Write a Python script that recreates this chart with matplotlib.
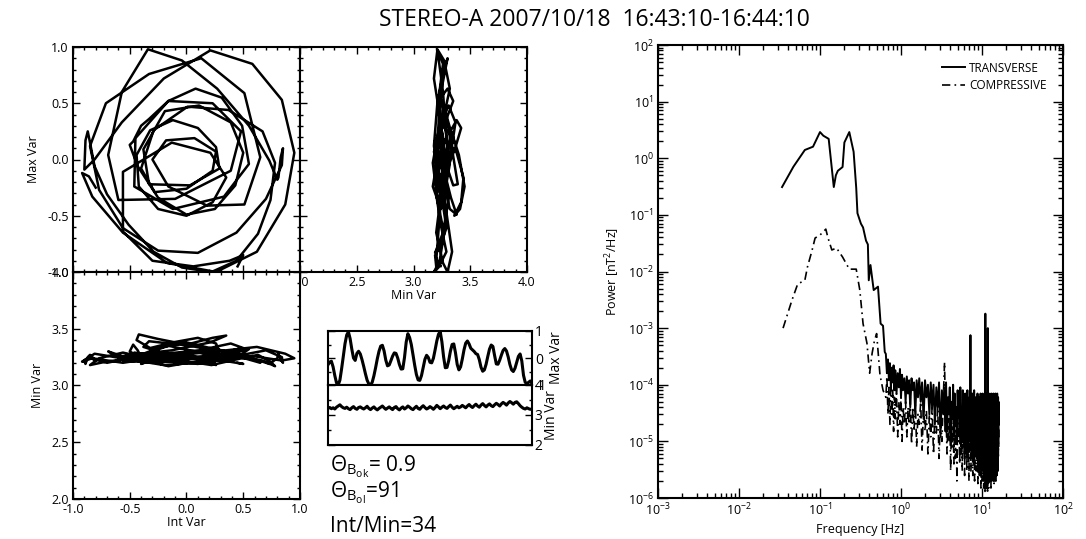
# hodograms + power spectrum, STEREO-A 2007/10/18
import matplotlib
matplotlib.use('Agg')
import matplotlib.pyplot as plt
from matplotlib.ticker import MultipleLocator, FormatStrFormatter, LogLocator, NullFormatter

plt.rcParams['font.family'] = ['Open Sans', 'DejaVu Sans']
plt.rcParams['axes.unicode_minus'] = False
plt.rcParams['mathtext.fontset'] = 'custom'
plt.rcParams['mathtext.rm'] = 'Open Sans'
plt.rcParams['mathtext.it'] = 'Open Sans'

# field components in minimum variance frame (0.5 s samples, 60 s)
max_var = [-0.25, -0.15, -0.12, -0.33, -0.65, -0.92, -1.00, -0.82, -0.40, 0.06,
           0.53, 0.85, 0.97, 0.72, 0.33, 0.00, -0.09, 0.17, 0.25, 0.15,
           -0.06, -0.31, -0.58, -0.82, -0.96, -1.00, -0.90, -0.66, -0.36, -0.03,
           0.25, 0.44, 0.47, 0.26, -0.08, -0.29, -0.26, -0.10, 0.07, 0.19,
           0.17, 0.00, -0.24, -0.41, -0.40, 0.02, 0.59, 0.90, 0.76, 0.50,
           0.12, -0.27, -0.61, -0.81, -0.83, -0.65, -0.35, -0.05, 0.10, 0.02,
           -0.16, -0.18, -0.01, 0.30, 0.63, 0.88, 0.98, 0.60, 0.04, -0.36,
           -0.35, -0.10, 0.25, 0.50, 0.52, 0.19, -0.24, -0.44, -0.33, -0.04,
           0.30, 0.55, 0.63, 0.52, 0.36, 0.30, 0.24, 0.16, 0.13, -0.06,
           -0.34, -0.49, -0.44, -0.23, 0.06, 0.33, 0.48, 0.43, 0.09, -0.22,
           -0.23, -0.08, 0.11, 0.28, 0.35, 0.26, 0.04, -0.24, -0.44, -0.50,
           -0.38, -0.16, 0.06, 0.15, -0.11, -0.64, -0.90, -0.95, -0.90, -0.85,
           -0.95]

int_var = [-0.80, -0.86, -0.92, -0.83, -0.56, -0.17, 0.26, 0.62, 0.87, 0.95,
           0.84, 0.58, 0.21, -0.20, -0.57, -0.81, -0.90, -0.89, -0.87, -0.85,
           -0.81, -0.70, -0.51, -0.29, -0.04, 0.22, 0.44, 0.63, 0.74, 0.78,
           0.67, 0.37, 0.01, -0.29, -0.40, -0.28, 0.00, 0.23, 0.26, 0.07,
           -0.18, -0.30, -0.16, 0.18, 0.51, 0.65, 0.51, 0.13, -0.33, -0.71,
           -0.85, -0.77, -0.56, -0.25, 0.10, 0.44, 0.70, 0.84, 0.85, 0.83,
           0.81, 0.80, 0.73, 0.55, 0.27, -0.04, -0.34, -0.57, -0.69, -0.60,
           -0.10, 0.39, 0.48, 0.23, -0.16, -0.45, -0.46, -0.12, 0.33, 0.55,
           0.49, 0.31, 0.08, -0.16, -0.33, -0.40, -0.43, -0.47, -0.50, -0.43,
           -0.25, 0.00, 0.25, 0.43, 0.50, 0.39, 0.11, -0.19, -0.38, -0.33,
           0.03, 0.29, 0.26, 0.10, -0.12, -0.32, -0.44, -0.42, -0.25, 0.00,
           0.23, 0.35, 0.21, -0.13, -0.56, -0.56, -0.30, 0.06, 0.38, 0.50,
           0.45]

min_var = [3.22, 3.25, 3.21, 3.24, 3.20, 3.26, 3.30, 3.34, 3.28, 3.24,
           3.22, 3.26, 3.21, 3.18, 3.24, 3.28, 3.22, 3.19, 3.25, 3.27,
           3.23, 3.20, 3.24, 3.29, 3.22, 3.18, 3.23, 3.27, 3.21, 3.17,
           3.22, 3.26, 3.30, 3.24, 3.19, 3.23, 3.27, 3.22, 3.18, 3.25,
           3.28, 3.21, 3.17, 3.23, 3.27, 3.20, 3.24, 3.30, 3.26, 3.21,
           3.18, 3.24, 3.29, 3.22, 3.19, 3.26, 3.31, 3.25, 3.20, 3.23,
           3.28, 3.24, 3.19, 3.25, 3.32, 3.27, 3.21, 3.26, 3.30, 3.25,
           3.22, 3.28, 3.33, 3.26, 3.21, 3.25, 3.29, 3.24, 3.27, 3.32,
           3.28, 3.24, 3.30, 3.35, 3.29, 3.25, 3.31, 3.36, 3.30, 3.26,
           3.33, 3.38, 3.32, 3.27, 3.33, 3.37, 3.31, 3.28, 3.34, 3.39,
           3.35, 3.30, 3.37, 3.42, 3.38, 3.33, 3.40, 3.45, 3.41, 3.36,
           3.42, 3.44, 3.38, 3.31, 3.26, 3.22, 3.20, 3.24, 3.21, 3.19,
           3.20]

# power spectra: smooth low-frequency part
trans_freq_lo = [0.034, 0.047, 0.065, 0.082, 0.1, 0.11, 0.128, 0.148, 0.157, 0.166,
                 0.19, 0.2, 0.23, 0.26, 0.28, 0.29, 0.32, 0.34, 0.37, 0.39,
                 0.40, 0.42, 0.46, 0.52, 0.56, 0.6, 0.63]
trans_pow_lo = [0.31, 0.71, 1.4, 1.6, 2.9, 2.5, 2.2, 0.31, 0.5, 0.6,
                0.7, 1.9, 2.9, 1.3, 0.3, 0.107, 0.07, 0.06, 0.035, 0.03,
                0.007, 0.013, 0.0047, 0.0054, 0.0012, 0.0011, 0.00038]
comp_freq_lo = [0.035, 0.045, 0.053, 0.065, 0.07, 0.08, 0.087, 0.1, 0.118, 0.125,
                0.14, 0.16, 0.19, 0.23, 0.28, 0.31, 0.34, 0.38, 0.41, 0.44,
                0.47, 0.5, 0.55, 0.6]
comp_pow_lo = [1.0e-3, 3.1e-3, 6e-3, 7e-3, 0.012, 0.024, 0.039, 0.044, 0.056, 0.04,
               0.024, 0.026, 0.018, 0.011, 0.011, 0.0047, 0.0012, 5.4e-4, 1.6e-4, 3.6e-4,
               6e-4, 8e-4, 1.5e-4, 8e-5]

# noisy high-frequency part
freq_hi = [0.65, 0.67, 0.69, 0.71, 0.73, 0.75, 0.77, 0.79, 0.81, 0.83,
           0.85, 0.88, 0.91, 0.94, 0.97, 1.00, 1.03, 1.06, 1.10, 1.14,
           1.18, 1.22, 1.26, 1.30, 1.35, 1.40, 1.45, 1.50, 1.56, 1.62,
           1.68, 1.75, 1.82, 1.90, 1.98, 2.06, 2.15, 2.24, 2.33, 2.42,
           2.52, 2.62, 2.73, 2.84, 2.95, 3.07, 3.20, 3.33, 3.45, 3.55,
           3.6, 3.7, 3.8, 3.9, 4.0, 4.1, 4.2, 4.3, 4.4, 4.5,
           4.6, 4.7, 4.8, 4.9, 5.0, 5.1, 5.2, 5.3, 5.4, 5.5,
           5.6, 5.7, 5.8, 5.9, 6.0, 6.1, 6.2, 6.3, 6.4, 6.5,
           6.6, 6.7, 6.8, 6.9, 7.0, 7.1, 7.2, 7.3, 7.4, 7.5,
           7.6, 7.7, 7.8, 7.9, 8.0, 8.1, 8.2, 8.3, 8.4, 8.5,
           8.6, 8.7, 8.8, 8.9, 9.0, 9.1, 9.2, 9.3, 9.4, 9.5,
           9.6, 9.7, 9.8, 9.9, 10.0, 10.1, 10.2, 10.3, 10.4, 10.5,
           10.6, 10.7, 10.8, 10.9, 11.0, 11.1, 11.2, 11.3, 11.4, 11.5,
           11.6, 11.7, 11.8, 11.9, 12.0, 12.1, 12.2, 12.3, 12.4, 12.5,
           12.6, 12.7, 12.8, 12.9, 13.0, 13.1, 13.2, 13.3, 13.4, 13.5,
           13.6, 13.7, 13.8, 13.9, 14.0, 14.1, 14.2, 14.3, 14.4, 14.5,
           14.6, 14.7, 14.8, 14.9, 15.0, 15.1, 15.2, 15.3, 15.4, 15.5,
           15.6, 15.7, 15.8, 15.9, 16.0, 16.1]
trans_pow_hi = [3.5e-4, 1.6e-4, 2.8e-4, 1.2e-4, 2.4e-4, 9e-5, 2.0e-4, 1.1e-4, 2.2e-4, 8e-5,
                1.8e-4, 7e-5, 1.6e-4, 9e-5, 1.9e-4, 6e-5, 1.5e-4, 8e-5, 1.3e-4, 5e-5,
                1.4e-4, 7e-5, 1.2e-4, 4e-5, 1.3e-4, 8e-5, 1.1e-4, 3e-5, 1.2e-4, 6e-5,
                1.3e-4, 5e-5, 1.1e-4, 2.5e-5, 1.2e-4, 6e-5, 1.0e-4, 3e-5, 1.1e-4, 4e-5,
                1.0e-4, 2e-5, 9e-5, 4e-5, 1.1e-4, 1.2e-5, 8e-5, 3e-5, 9e-5, 1.5e-5,
                1.1e-4, 1.5e-5, 6e-5, 3e-5, 9e-5, 1.0e-5, 5e-5, 2.5e-5, 1.0e-4, 1.2e-5,
                7e-5, 2e-5, 4e-5, 9e-6, 8e-5, 3e-5, 5e-5, 1.5e-5, 9e-5, 8e-6,
                4e-5, 2.5e-5, 8e-5, 1e-5, 5e-5, 6e-6, 7e-5, 2e-5, 4e-5, 1.2e-5,
                8e-5, 7e-6, 4e-5, 2e-5, 6e-5, 1e-5, 7.5e-4, 1e-5, 4e-5, 5e-6,
                7e-5, 1.5e-5, 4e-5, 4e-6, 8e-5, 2e-5, 4e-5, 6e-6, 6e-5, 1.2e-5,
                3.5e-5, 5e-6, 7e-5, 1.5e-5, 4e-5, 3e-6, 6e-5, 1e-5, 3.5e-5, 4e-6,
                7e-5, 8e-6, 4e-5, 3e-6, 5e-5, 1.2e-5, 7e-5, 4e-6, 3.5e-5, 2e-6,
                6e-5, 8e-6, 4e-5, 3e-6, 1.8e-3, 4e-6, 6e-5, 2e-6, 3.5e-5, 6e-6,
                7e-5, 3e-6, 1.0e-3, 4e-6, 4e-5, 2e-6, 7e-5, 5e-6, 3.5e-5, 2e-6,
                6e-5, 8e-6, 4e-5, 2e-6, 7e-5, 5e-6, 3.5e-5, 3e-6, 6e-5, 2.5e-6,
                4e-5, 6e-6, 7e-5, 2e-6, 4e-5, 4e-6, 6e-5, 3e-6, 4e-5, 2e-6,
                7e-5, 5e-6, 4e-5, 2.5e-6, 6e-5, 4e-6, 3.5e-5, 3e-6, 7e-5, 6e-6,
                4e-5, 3e-6, 6e-5, 8e-6, 5e-5, 2e-5]
comp_pow_hi = [6e-5, 1.4e-4, 3e-5, 9e-5, 2e-5, 1.2e-4, 3e-5, 8e-5, 1.5e-5, 6e-5,
               2.5e-5, 7e-5, 1.2e-5, 5e-5, 2e-5, 6e-5, 1.0e-5, 4e-5, 2e-5, 5e-5,
               1.2e-5, 4e-5, 2e-5, 6e-5, 9e-6, 4e-5, 1.5e-5, 5e-5, 8e-6, 3e-5,
               2e-5, 5e-5, 7e-6, 4e-5, 1.5e-5, 3.5e-5, 6e-6, 3e-5, 1.2e-5, 4e-5,
               6e-6, 3e-5, 1.4e-5, 4e-5, 5e-6, 3e-5, 1e-5, 6e-5, 2.5e-4, 1.5e-5,
               3e-5, 6e-6, 2.5e-5, 1e-5, 4e-5, 3e-6, 3e-5, 8e-6, 2e-5, 4e-6,
               3e-5, 5e-6, 2.5e-5, 2e-6, 2e-5, 1e-5, 3e-5, 4e-6, 2.5e-5, 6e-6,
               2e-5, 3e-6, 3e-5, 8e-6, 2e-5, 2.5e-6, 2.5e-5, 6e-6, 2e-5, 3e-6,
               2.5e-5, 5e-6, 2e-5, 2e-6, 3e-5, 7e-6, 2e-5, 3e-6, 2.5e-5, 6e-6,
               2e-5, 2.5e-6, 2.5e-5, 5e-6, 2e-5, 2e-6, 3e-5, 6e-6, 2e-5, 3e-6,
               2.5e-5, 5e-6, 2e-5, 1.8e-6, 2.5e-5, 6e-6, 2e-5, 2.5e-6, 2.5e-5, 4e-6,
               2e-5, 1.5e-6, 2.5e-5, 5e-6, 2e-5, 2e-6, 3e-5, 4e-6, 2e-5, 1.5e-6,
               2.5e-5, 5e-6, 2e-5, 1.2e-6, 2.5e-5, 4e-6, 2e-5, 1.5e-6, 2.5e-5, 5e-6,
               2e-5, 1.2e-6, 2.5e-5, 4e-6, 2e-5, 1.5e-6, 2.5e-5, 5e-6, 2e-5, 2e-6,
               2.5e-5, 4e-6, 2e-5, 1.5e-6, 2.5e-5, 5e-6, 2e-5, 2e-6, 2.5e-5, 4e-6,
               2e-5, 2e-6, 2.5e-5, 5e-6, 2e-5, 1.8e-6, 2.5e-5, 4e-6, 2e-5, 2e-6,
               2.5e-5, 5e-6, 2e-5, 2e-6, 2.5e-5, 4e-6, 2e-5, 2.5e-6, 2.5e-5, 5e-6,
               2e-5, 3e-6, 2.5e-5, 5e-6, 2e-5, 1e-5]

title = 'STEREO-A 2007/10/18  16:43:10-16:44:10'
theta_bk = r'$\Theta_{B_{ok}}$= 0.9'
theta_bl = r'$\Theta_{B_{ol}}$=91'
ratio_txt = 'Int/Min=34'

W, H = 1086, 539
fig = plt.figure(figsize=(W / 100, H / 100), dpi=100)


def box(x0, y0, x1, y1):
    # pixel box -> figure axes
    return fig.add_axes([x0 / W, 1 - y1 / H, (x1 - x0) / W, (y1 - y0) / H])


def style(ax, lab=9):
    for s in ax.spines.values():
        s.set_linewidth(1.5)
    ax.tick_params(which='both', direction='in', top=True, right=True,
                   width=1.0, labelsize=lab, pad=3)
    ax.tick_params(which='major', length=5)
    ax.tick_params(which='minor', length=2.5)


hc = dict(color='black', lw=1.8)

# top-left: Max vs Int
ax1 = box(73, 47, 300, 272)
ax1.plot(int_var, max_var, **hc)
ax1.set_xlim(-1, 1)
ax1.set_ylim(-1, 1)
for a in (ax1.xaxis, ax1.yaxis):
    a.set_major_locator(MultipleLocator(0.5))
    a.set_minor_locator(MultipleLocator(0.1))
ax1.yaxis.set_major_formatter(FormatStrFormatter('%.1f'))
style(ax1)
ax1.tick_params(labelbottom=False)
ax1.set_ylabel('Max Var', fontsize=9, labelpad=5)

# top-right: Max vs Min
ax2 = box(300, 47, 527, 272)
ax2.plot(min_var, max_var, **hc)
ax2.set_xlim(2, 4)
ax2.set_ylim(-1, 1)
for a in (ax2.xaxis, ax2.yaxis):
    a.set_major_locator(MultipleLocator(0.5))
    a.set_minor_locator(MultipleLocator(0.1))
ax2.xaxis.set_major_formatter(FormatStrFormatter('%.1f'))
style(ax2)
ax2.tick_params(labelleft=False)
ax2.set_xlabel('Min Var', fontsize=9, labelpad=0)

# bottom-left: Min vs Int
ax3 = box(73, 272, 300, 499)
ax3.plot(int_var, min_var, **hc)
ax3.set_xlim(-1, 1)
ax3.set_ylim(2, 4)
for a in (ax3.xaxis, ax3.yaxis):
    a.set_major_locator(MultipleLocator(0.5))
    a.set_minor_locator(MultipleLocator(0.1))
ax3.xaxis.set_major_formatter(FormatStrFormatter('%.1f'))
ax3.yaxis.set_major_formatter(FormatStrFormatter('%.1f'))
style(ax3)
ax3.set_xlabel('Int Var', fontsize=9, labelpad=0)
ax3.set_ylabel('Min Var', fontsize=9, labelpad=5)

# time series
ax4 = box(328, 331, 532, 385)
ax4.plot(max_var, color='black', lw=2.2)
ax4.set_xlim(0, len(max_var) - 1)
ax4.set_ylim(-1, 1)
ax4.set_yticks([-1, 0, 1])
ax4.yaxis.set_minor_locator(MultipleLocator(0.5))
style(ax4, lab=10)
ax4.tick_params(labelleft=False, labelright=True, pad=2)
ax4.set_xticks([])
ax4.yaxis.set_label_position('right')
ax4.set_ylabel('Max Var', fontsize=10, rotation=90, labelpad=1)

ax5 = box(328, 385, 532, 445)
ax5.plot(min_var, color='black', lw=2.2)
ax5.set_xlim(0, len(min_var) - 1)
ax5.set_ylim(2, 4)
ax5.set_yticks([2, 3, 4])
ax5.yaxis.set_minor_locator(MultipleLocator(0.5))
style(ax5, lab=10)
ax5.tick_params(labelleft=False, labelright=True, pad=2)
ax5.set_xticks([])
ax5.yaxis.set_label_position('right')
ax5.set_ylabel('Min Var', fontsize=10, rotation=90, labelpad=1)

fig.text(330 / W, 1 - 467 / H, theta_bk, fontsize=15, va='center')
fig.text(330 / W, 1 - 493 / H, theta_bl, fontsize=15, va='center')
fig.text(330 / W, 1 - 526 / H, ratio_txt, fontsize=15, va='center')

# power spectrum
ax6 = box(658, 45, 1063, 498)
ax6.loglog(trans_freq_lo + freq_hi, trans_pow_lo + trans_pow_hi,
           color='black', lw=1.4, label='TRANSVERSE')
ax6.loglog(comp_freq_lo + freq_hi, comp_pow_lo + comp_pow_hi,
           color='black', lw=1.2, linestyle=(0, (5, 2.5, 1, 2.5)),
           label='COMPRESSIVE')
ax6.set_xlim(1e-3, 1e2)
ax6.set_ylim(1e-6, 1e2)
for a in (ax6.xaxis, ax6.yaxis):
    a.set_major_locator(LogLocator(base=10, numticks=20))
    a.set_minor_locator(LogLocator(base=10, subs=range(2, 10), numticks=20))
    a.set_minor_formatter(NullFormatter())
style(ax6, lab=9)
ax6.tick_params(which='major', length=7)
ax6.tick_params(which='minor', length=3.5)
ax6.set_xlabel('Frequency [Hz]', fontsize=9, labelpad=3)
ax6.set_ylabel('Power [nT$^2$/Hz]', fontsize=9, labelpad=4)
ax6.legend(loc='upper right', frameon=False, fontsize=8.5, handlelength=2.0,
           handletextpad=0.3, borderaxespad=1.0, labelspacing=0.4)

fig.text(594 / W, 1 - 20 / H, title, fontsize=16.5, ha='center', va='center')

fig.savefig('out.png', dpi=100)
